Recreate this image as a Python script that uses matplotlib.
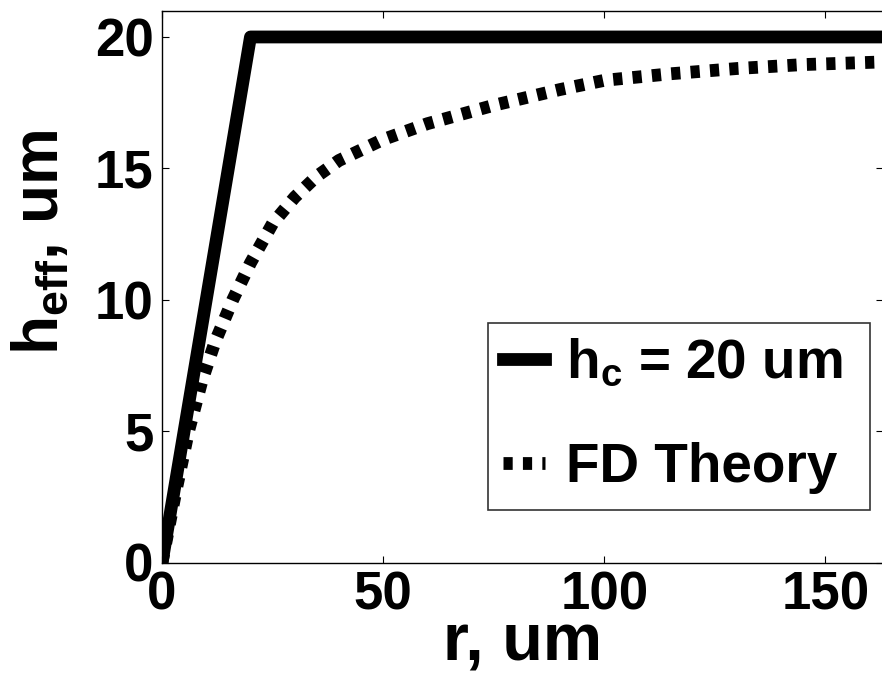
"""Effective height vs. radius: step model against FD theory."""

import matplotlib
matplotlib.use("Agg")
import matplotlib.pyplot as plt

plt.rcParams["font.family"] = ["Liberation Sans", "DejaVu Sans"]
plt.rcParams["font.weight"] = "bold"
plt.rcParams["mathtext.fontset"] = "custom"
plt.rcParams["mathtext.rm"] = "Liberation Sans:bold"
plt.rcParams["mathtext.bf"] = "Liberation Sans:bold"
plt.rcParams["mathtext.it"] = "Liberation Sans:bold"

# step model: linear up to h_c, then flat
r_step = [0, 20, 163]
h_step = [0, 20, 20]

# finite-difference theory curve
r_fd = [0, 3, 6, 9, 12, 16, 20, 25, 30, 35, 40, 50, 60, 75, 90, 100,
        115, 130, 145, 163]
h_fd = [0, 2.6, 5.0, 6.9, 8.4, 10.0, 11.4, 12.9, 13.9, 14.7, 15.3, 16.1,
        16.7, 17.4, 18.0, 18.35, 18.6, 18.8, 18.95, 19.05]

xticks = [0, 50, 100, 150]
yticks = [0, 5, 10, 15, 20]

W, H = 882, 677
fig = plt.figure(figsize=(W / 100, H / 100), dpi=100)
ax = fig.add_axes([162 / W, (H - 562.5) / H, (883 - 162) / W, (562.5 - 10.7) / H])

ax.plot(r_step, h_step, color="black", lw=9.2, solid_joinstyle="round",
        label=r"$\mathbf{h}_{\mathbf{c}}$ = 20 um")
ax.plot(r_fd, h_fd, color="black", lw=9.2, dashes=(0.72, 0.8),
        dash_capstyle="butt", label="FD Theory")

ax.set_xlim(0, 163)
ax.set_ylim(0, 21)
ax.set_xticks(xticks)
ax.set_yticks(yticks)
ax.tick_params(direction="in", length=5, width=0.8, top=True, right=True,
               labelsize=38, pad=6)
for lbl in ax.get_xticklabels() + ax.get_yticklabels():
    lbl.set_fontweight("bold")
for s in ax.spines.values():
    s.set_linewidth(1.0)

ax.set_xlabel("r, um", fontsize=48, fontweight="bold", labelpad=-6)
ax.set_ylabel(r"$\mathbf{h}_{\mathbf{eff}}$, um", fontsize=46,
              fontweight="bold")
ax.yaxis.set_label_coords(-0.126, 0.58)

leg = ax.legend(loc="upper left",
                bbox_to_anchor=(488 / W, 1 - 509 / H, (870 - 488) / W, (509 - 323) / H),
                bbox_transform=fig.transFigure, mode="expand", fontsize=39.5,
                frameon=True, fancybox=False, edgecolor="black",
                handlelength=0.75, handletextpad=0.4, borderpad=0.28,
                labelspacing=0.95, borderaxespad=0)
leg.get_frame().set_linewidth(1.2)

fig.savefig("out.png", dpi=100)
